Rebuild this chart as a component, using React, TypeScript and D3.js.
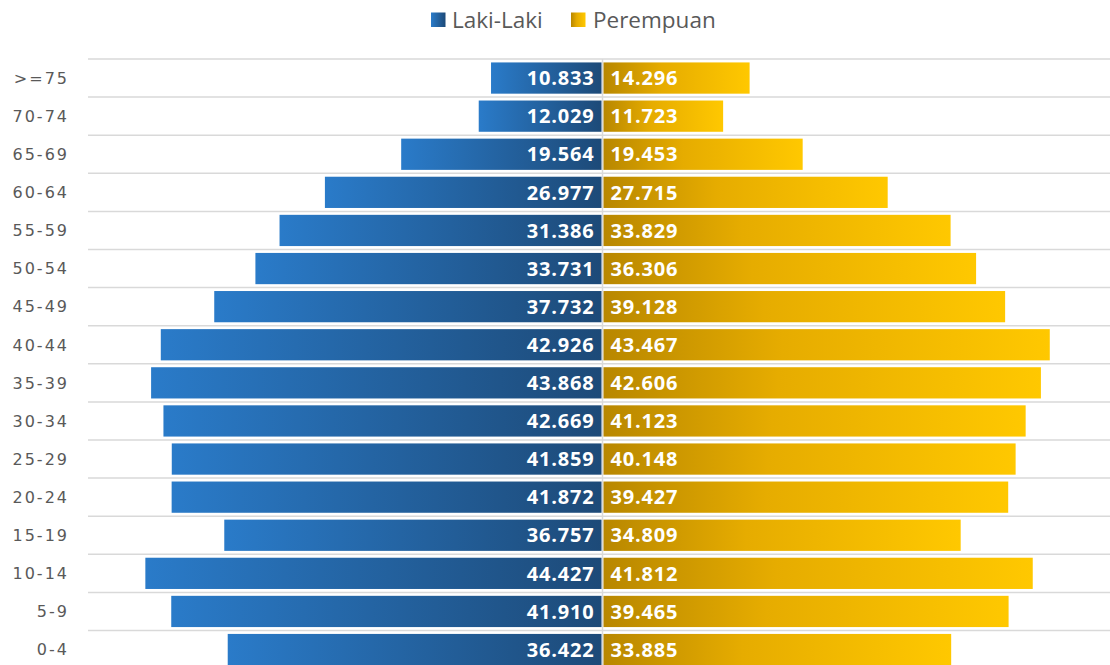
import React from "react";
import * as d3 from "d3";

const categories = [">=75", "70-74", "65-69", "60-64", "55-59", "50-54", "45-49", "40-44", "35-39", "30-34", "25-29", "20-24", "15-19", "10-14", "5-9", "0-4"];
const male = [10.833, 12.029, 19.564, 26.977, 31.386, 33.731, 37.732, 42.926, 43.868, 42.669, 41.859, 41.872, 36.757, 44.427, 41.91, 36.422];
const female = [14.296, 11.723, 19.453, 27.715, 33.829, 36.306, 39.128, 43.467, 42.606, 41.123, 40.148, 39.427, 34.809, 41.812, 39.465, 33.885];
const seriesNames = ["Laki-Laki", "Perempuan"];

const W = 1110, H = 665;
const fmt = (v: number) => v.toFixed(3);

export default function App() {
  const x = d3.scaleLinear().domain([-50, 50]).range([88, 1117]);
  const y = d3.scaleBand<string>().domain(categories).range([59, 59 + 38.1 * categories.length]).paddingInner(0.18).paddingOuter(0.09);
  const step = y.step();
  const x0 = x(0);
  const font = "'Open Sans', 'Noto Sans', sans-serif";
  return (
    <svg width={W} height={H} style={{ position: "absolute", left: 0, top: 0 }}>
      <defs>
        <linearGradient id="gBlue" x1="0" x2="1" y1="0" y2="0">
          <stop offset="0" stopColor="#2a7bc9" />
          <stop offset="1" stopColor="#1d4a78" />
        </linearGradient>
        <linearGradient id="gGold" x1="0" x2="1" y1="0" y2="0">
          <stop offset="0" stopColor="#b88700" />
          <stop offset="0.4" stopColor="#e6ac00" />
          <stop offset="1" stopColor="#ffc800" />
        </linearGradient>
      </defs>
      <rect width={W} height={H} fill="#fff" />
      {categories.map((c, i) => (
        <line key={c} x1={88} x2={W} y1={59 + i * step} y2={59 + i * step} stroke="#d9d9d9" strokeWidth={1.5} />
      ))}
      <line x1={x0} x2={x0} y1={59} y2={H} stroke="#d9d9d9" strokeWidth={1.5} />
      {categories.map((c, i) => (
        <g key={c}>
          <rect x={x(-male[i])} y={y(c)} width={x0 - 1 - x(-male[i])} height={y.bandwidth()} fill="url(#gBlue)" />
          <rect x={x0 + 1} y={y(c)} width={x(female[i]) - x0 - 1} height={y.bandwidth()} fill="url(#gGold)" />
          <text x={x0 - 8} y={(y(c) as number) + y.bandwidth() / 2} dy="0.36em" textAnchor="end" fill="#fff" fontFamily={font} fontWeight={700} fontSize={20} letterSpacing={0.8}>{fmt(male[i])}</text>
          <text x={x0 + 8} y={(y(c) as number) + y.bandwidth() / 2} dy="0.36em" textAnchor="start" fill="#fff" fontFamily={font} fontWeight={700} fontSize={20} letterSpacing={0.8}>{fmt(female[i])}</text>
          <text x={69} y={(y(c) as number) + y.bandwidth() / 2} dy="0.36em" textAnchor="end" fill="#595959" fontFamily="'DejaVu Sans', sans-serif" fontSize={16} letterSpacing={2}>{c}</text>
        </g>
      ))}
      <g fontFamily={font} fontSize={22.5} fill="#595959">
        <rect x={431} y={12.5} width={14.5} height={14.5} fill="url(#gBlue)" />
        <text x={452} y={20} dy="0.36em">{seriesNames[0]}</text>
        <rect x={571} y={12.5} width={14.5} height={14.5} fill="url(#gGold)" />
        <text x={593} y={20} dy="0.36em">{seriesNames[1]}</text>
      </g>
    </svg>
  );
}
